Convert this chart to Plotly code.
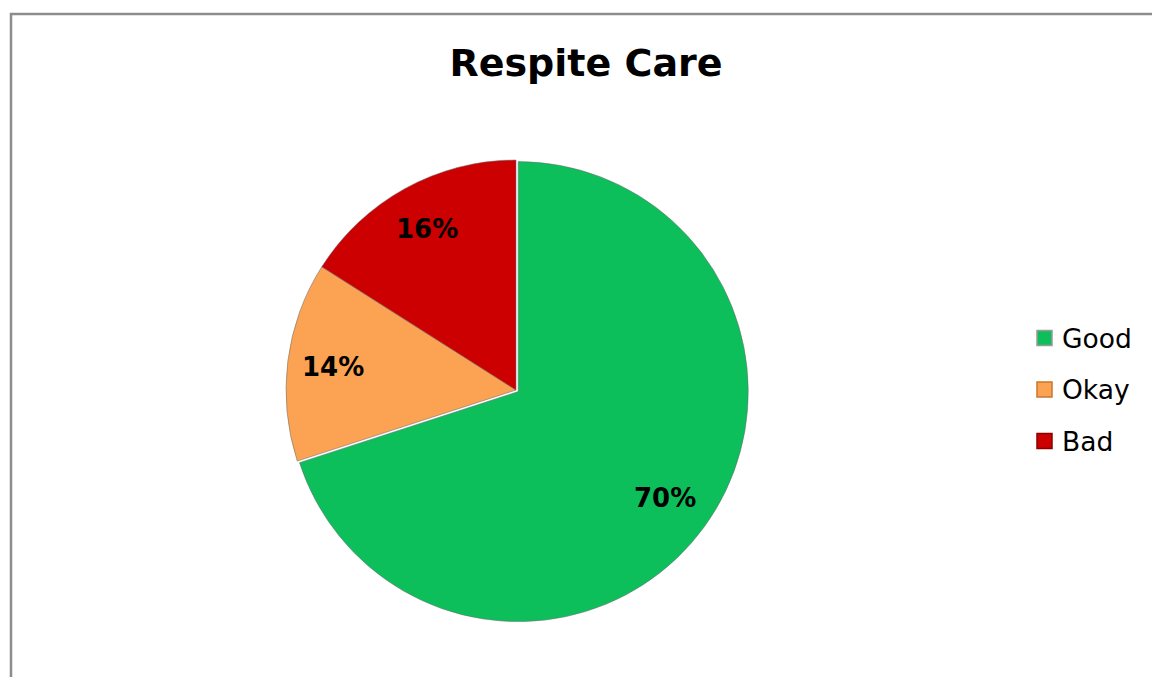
import math
import plotly.graph_objects as go

# Survey results for respite care
labels = ["Good", "Okay", "Bad"]
values = [70, 14, 16]
colors = ["#0CBF5B", "#FBA353", "#CC0000"]
legend_edges = ["#9a9a9a", "#c9772d", "#8a0000"]

W, H = 1152, 677

# Pie geometry (pixels)
cx, cy, R = 516, 390, 230
pull_good = 0.012
half = R * (1 + pull_good)

fig = go.Figure()
fig.add_trace(go.Pie(
    labels=labels,
    values=values,
    sort=False,
    direction="clockwise",
    rotation=0,
    pull=[pull_good, 0, 0],
    marker=dict(colors=colors, line=dict(color="rgba(110,110,110,0.55)", width=1)),
    textinfo="none",
    showlegend=False,
    hoverinfo="label+percent",
    domain=dict(
        x=[(cx - half) / W, (cx + half) / W],
        y=[1 - (cy + half) / H, 1 - (cy - half) / H],
    ),
))

# Chart frame
shapes = [dict(
    type="rect", xref="paper", yref="paper",
    x0=11 / W, x1=1.05, y0=-0.05, y1=1 - 14 / H,
    line=dict(color="#8c8c8c", width=2.5), fillcolor="rgba(0,0,0,0)", layer="below",
)]

annotations = []

# Percentage labels placed at 80% of the radius along each slice's mid-angle
total = sum(values)
start = 0.0
for v in values:
    frac = v / total
    mid = (start + frac / 2) * 2 * math.pi  # clockwise from 12 o'clock
    start += frac
    px = cx + 0.8 * R * math.sin(mid)
    py = cy - 0.8 * R * math.cos(mid)
    annotations.append(dict(
        text=f"<b>{round(frac * 100)}%</b>", xref="paper", yref="paper",
        x=px / W, y=1 - py / H, xanchor="center", yanchor="middle",
        showarrow=False,
        font=dict(family="DejaVu Sans", size=26, color="black"),
    ))

# Legend on the right
leg_x, leg_y0, leg_step, sq = 1037, 338, 51.5, 15
for i, (lab, col, edge) in enumerate(zip(labels, colors, legend_edges)):
    yc = leg_y0 + i * leg_step
    shapes.append(dict(
        type="rect", xref="paper", yref="paper",
        x0=leg_x / W, x1=(leg_x + sq) / W,
        y0=1 - (yc + sq / 2) / H, y1=1 - (yc - sq / 2) / H,
        fillcolor=col, line=dict(color=edge, width=1.5),
    ))
    annotations.append(dict(
        text=lab, xref="paper", yref="paper",
        x=(leg_x + sq + 8) / W, y=1 - yc / H,
        xanchor="left", yanchor="middle", showarrow=False,
        font=dict(family="DejaVu Sans", size=26.5, color="black"),
    ))

fig.update_layout(
    width=W, height=H,
    margin=dict(l=0, r=0, t=0, b=0),
    paper_bgcolor="white",
    plot_bgcolor="white",
    title=dict(
        text="<b>Respite Care</b>",
        x=586 / W, y=1 - 63 / H, xanchor="center", yanchor="middle",
        font=dict(family="DejaVu Sans", size=38, color="black"),
    ),
    shapes=shapes,
    annotations=annotations,
)

fig.write_html("out.html")
